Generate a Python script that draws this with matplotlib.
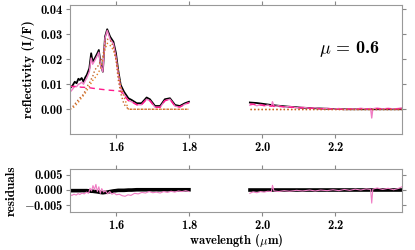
import numpy as np
import matplotlib.pyplot as plt

plt.rcParams['font.family'] = ['cmb10', 'DejaVu Serif']
plt.rcParams['mathtext.fontset'] = 'cm'
plt.rcParams['axes.formatter.use_mathtext'] = True
plt.rcParams['axes.unicode_minus'] = True

# H-band segment
wl_h = [1.473, 1.480, 1.486, 1.491, 1.496, 1.500, 1.505, 1.510, 1.515, 1.519, 1.526, 1.531, 1.535, 1.541,
        1.548, 1.552, 1.557, 1.563, 1.569, 1.575, 1.583, 1.592, 1.599, 1.605,
        1.612, 1.621, 1.633, 1.642, 1.656, 1.669, 1.683, 1.692, 1.706, 1.720,
        1.733, 1.747, 1.761, 1.774, 1.788, 1.799]
obs_h = [0.0084, 0.0095, 0.0110, 0.0104, 0.0122, 0.0117, 0.0125, 0.0110, 0.0128, 0.0137, 0.0164, 0.0224, 0.0190, 0.0204,
         0.0224, 0.0237, 0.0180, 0.0150, 0.0290, 0.0320, 0.0290, 0.0270, 0.0224, 0.0157,
         0.0097, 0.0070, 0.0044, 0.0037, 0.0024, 0.0024, 0.0047, 0.0040, 0.0013, 0.0013,
         0.0040, 0.0044, 0.0017, 0.0013, 0.0024, 0.0030]
mod_h = [0.0068, 0.0080, 0.0092, 0.0090, 0.0100, 0.0102, 0.0108, 0.0100, 0.0115, 0.0125, 0.0150, 0.0205, 0.0180, 0.0195,
         0.0215, 0.0228, 0.0175, 0.0150, 0.0285, 0.0315, 0.0280, 0.0262, 0.0210, 0.0145,
         0.0085, 0.0060, 0.0035, 0.0030, 0.0018, 0.0018, 0.0040, 0.0034, 0.0008, 0.0008,
         0.0034, 0.0040, 0.0012, 0.0009, 0.0020, 0.0026]
cont_h = [0.0092, 0.0091, 0.0091, 0.0090, 0.0089, 0.0089, 0.0088, 0.0088, 0.0087, 0.0087, 0.0086, 0.0085, 0.0084, 0.0083,
          0.0082, 0.0081, 0.0080, 0.0079, 0.0078, 0.0077, 0.0076, 0.0075, 0.0074, 0.0073,
          0.0072, 0.0055, 0.0035, 0.0030, 0.0018, 0.0018, 0.0040, 0.0034, 0.0008, 0.0008,
          0.0034, 0.0040, 0.0012, 0.0009, 0.0020, 0.0026]
ice_h = [0.0000, 0.0004, 0.0012, 0.0020, 0.0028, 0.0037, 0.0046, 0.0055, 0.0065, 0.0075, 0.0090, 0.0105, 0.0115, 0.0125,
         0.0140, 0.0150, 0.0164, 0.0200, 0.0240, 0.0264, 0.0255, 0.0237, 0.0200, 0.0157,
         0.0090, 0.0050, 0.0000, 0.0000, 0.0000, 0.0000, 0.0000, 0.0000, 0.0000, 0.0000,
         0.0000, 0.0000, 0.0000, 0.0000, 0.0000, 0.0000]
ice2_h = [0.0000, 0.0010, 0.0020, 0.0030, 0.0038, 0.0045, 0.0052, 0.0060, 0.0075, 0.0090, 0.0104, 0.0120, 0.0130, 0.0157,
          0.0170, 0.0177, 0.0195, 0.0210, 0.0270, 0.0280, 0.0277, 0.0250, 0.0200, 0.0120,
          0.0064, 0.0020, 0.0000, 0.0000, 0.0000, 0.0000, 0.0000, 0.0000, 0.0000, 0.0000,
          0.0000, 0.0000, 0.0000, 0.0000, 0.0000, 0.0000]
zero_h = [-0.0003, -0.0003, -0.0003, -0.0003, -0.0003, -0.0003, -0.0003, -0.0003, -0.0003, -0.0003, -0.0004, -0.0005, -0.0005, -0.0006,
          -0.0007, -0.0008, -0.0009, -0.0010, -0.0009, -0.0008, -0.0006, -0.0004, -0.0003, -0.0002,
          -0.0002, -0.0002, -0.0001, -0.0001, 0.0000, 0.0000, 0.0000, 0.0000, 0.0000, 0.0000,
          0.0000, 0.0000, 0.0000, 0.0000, 0.0000, 0.0000]

# residuals, H band (finer sampling)
wl_rh = [1.473, 1.478, 1.484, 1.490, 1.495, 1.500, 1.506, 1.512, 1.518, 1.524,
         1.528, 1.532, 1.536, 1.540, 1.544, 1.548, 1.552, 1.556, 1.560, 1.565,
         1.570, 1.576, 1.582, 1.588, 1.594, 1.600, 1.608, 1.616, 1.624, 1.632,
         1.640, 1.650, 1.660, 1.670, 1.680, 1.690, 1.700, 1.710, 1.720, 1.730,
         1.740, 1.750, 1.760, 1.770, 1.780, 1.790, 1.799]
res_h = [-0.0017, -0.0019, -0.0015, -0.0018, -0.0013, -0.0016, -0.0011, -0.0014, -0.0008, -0.0012,
         0.0005, -0.0004, 0.0014, 0.0000, 0.0018, -0.0006, 0.0010, -0.0012, 0.0004, -0.0008,
         -0.0003, -0.0014, -0.0006, -0.0015, -0.0011, -0.0017, -0.0015, -0.0020, -0.0022, -0.0017,
         -0.0019, -0.0012, -0.0014, -0.0009, -0.0011, -0.0006, -0.0010, -0.0008, -0.0011, -0.0006,
         -0.0009, -0.0005, -0.0008, -0.0004, -0.0006, -0.0003, -0.0006]

# K-band segment
wl_k = [1.966, 1.975, 1.985, 1.995, 2.005, 2.015, 2.025, 2.028, 2.032, 2.045,
        2.060, 2.075, 2.094, 2.110, 2.130, 2.145, 2.160, 2.178, 2.194, 2.210,
        2.225, 2.240, 2.255, 2.270, 2.285, 2.297, 2.300, 2.303, 2.315, 2.330,
        2.345, 2.360, 2.372, 2.383]
obs_k = [0.0027, 0.0026, 0.0025, 0.0023, 0.0021, 0.0019, 0.0017, 0.0017, 0.0016, 0.0014,
         0.0012, 0.0010, 0.0008, 0.0006, 0.0005, 0.0004, 0.0003, 0.0002, 0.0001, 0.0001,
         0.0000, 0.0000, 0.0000, 0.0000, 0.0000, 0.0000, 0.0000, 0.0000, 0.0000, 0.0000,
         0.0000, 0.0000, 0.0000, 0.0000]
mod_k = [0.0016, 0.0020, 0.0014, 0.0019, 0.0013, 0.0017, 0.0012, 0.0030, 0.0011, 0.0014,
         0.0009, 0.0011, 0.0006, 0.0008, 0.0004, 0.0006, 0.0002, 0.0004, 0.0000, 0.0003,
         -0.0001, 0.0002, 0.0000, 0.0004, 0.0001, 0.0003, -0.0035, 0.0002, 0.0005, 0.0001,
         0.0004, 0.0001, 0.0003, 0.0006]
cont_k = [0.0021, 0.0020, 0.0019, 0.0017, 0.0016, 0.0014, 0.0013, 0.0013, 0.0012, 0.0011,
          0.0010, 0.0008, 0.0007, 0.0005, 0.0004, 0.0003, 0.0002, 0.0001, 0.0001, 0.0000,
          0.0000, 0.0001, 0.0000, 0.0001, 0.0001, 0.0000, 0.0000, 0.0001, 0.0002, 0.0001,
          0.0002, 0.0001, 0.0001, 0.0002]
ice_k = [0.0000] * 34
res_k = [-0.0012, -0.0007, -0.0010, -0.0006, -0.0008, -0.0005, -0.0006, 0.0015, -0.0004, -0.0006,
         -0.0003, -0.0005, -0.0002, -0.0004, -0.0001, -0.0004, -0.0001, -0.0003, 0.0000, -0.0003,
         0.0001, -0.0002, 0.0002, -0.0001, 0.0003, 0.0001, -0.0045, 0.0002, 0.0006, 0.0001,
         0.0005, 0.0000, 0.0004, 0.0010]
zero_k = [0.0000] * 34

fig = plt.figure(figsize=(4.15, 2.5), dpi=100)
ax1 = fig.add_axes([70 / 415, 1 - 134 / 250, 332 / 415, 129 / 250])
ax2 = fig.add_axes([70 / 415, 1 - 212 / 250, 332 / 415, 43 / 250])

pink = '#f07cc4'
deep = '#ff1a8c'
orange = '#e07a20'
brown = '#c0602a'

for wl, obs, mod, cont, ice, ice2 in [(wl_h, obs_h, mod_h, cont_h, ice_h, ice2_h),
                                      (wl_k, obs_k, mod_k, cont_k, ice_k, ice_k)]:
    ax1.plot(wl, obs, color='black', lw=1.3)
    ax1.plot(wl, mod, color=pink, lw=1.0)
    ax1.plot(wl, cont, color=deep, lw=1.0, ls=(0, (4, 3)))
    ax1.plot(wl, ice, color=orange, lw=1.0, ls=':')
    ax1.plot(wl, ice2, color=brown, lw=1.0, ls=':')

ax2.plot(wl_h, zero_h, color='black', lw=2.6)
ax2.plot(wl_k, zero_k, color='black', lw=2.6)
ax2.plot(wl_rh, res_h, color=pink, lw=0.8)
ax2.plot(wl_k, res_k, color=pink, lw=0.8)

ax1.text(0.935, 0.66, r'$\mu$ = 0.6', transform=ax1.transAxes,
         ha='right', va='center', fontsize=13)

for ax in (ax1, ax2):
    ax.set_xlim(1.473, 2.383)
    ax.set_xticks([1.6, 1.8, 2.0, 2.2])
    ax.tick_params(direction='out', top=True, right=True, labelsize=9,
                   color='#888888', length=3, pad=2)
    for s in ax.spines.values():
        s.set_color('#999999')

ax1.set_ylim(-0.0099, 0.0417)
ax1.set_yticks([0.0, 0.01, 0.02, 0.03, 0.04])
ax1.set_yticklabels(['0.00', '0.01', '0.02', '0.03', '0.04'])
ax1.set_ylabel('reflectivity (I/F)', fontsize=9.5)

ax2.set_ylim(-0.0075, 0.007)
ax2.set_yticks([-0.005, 0.0, 0.005])
ax2.set_yticklabels(['$-$0.005', '0.000', '0.005'])
ax2.set_ylabel('residuals', fontsize=9.5)
ax2.set_xlabel(r'wavelength ($\mu$m)', fontsize=9, labelpad=0)

fig.savefig('out.png', dpi=100)
